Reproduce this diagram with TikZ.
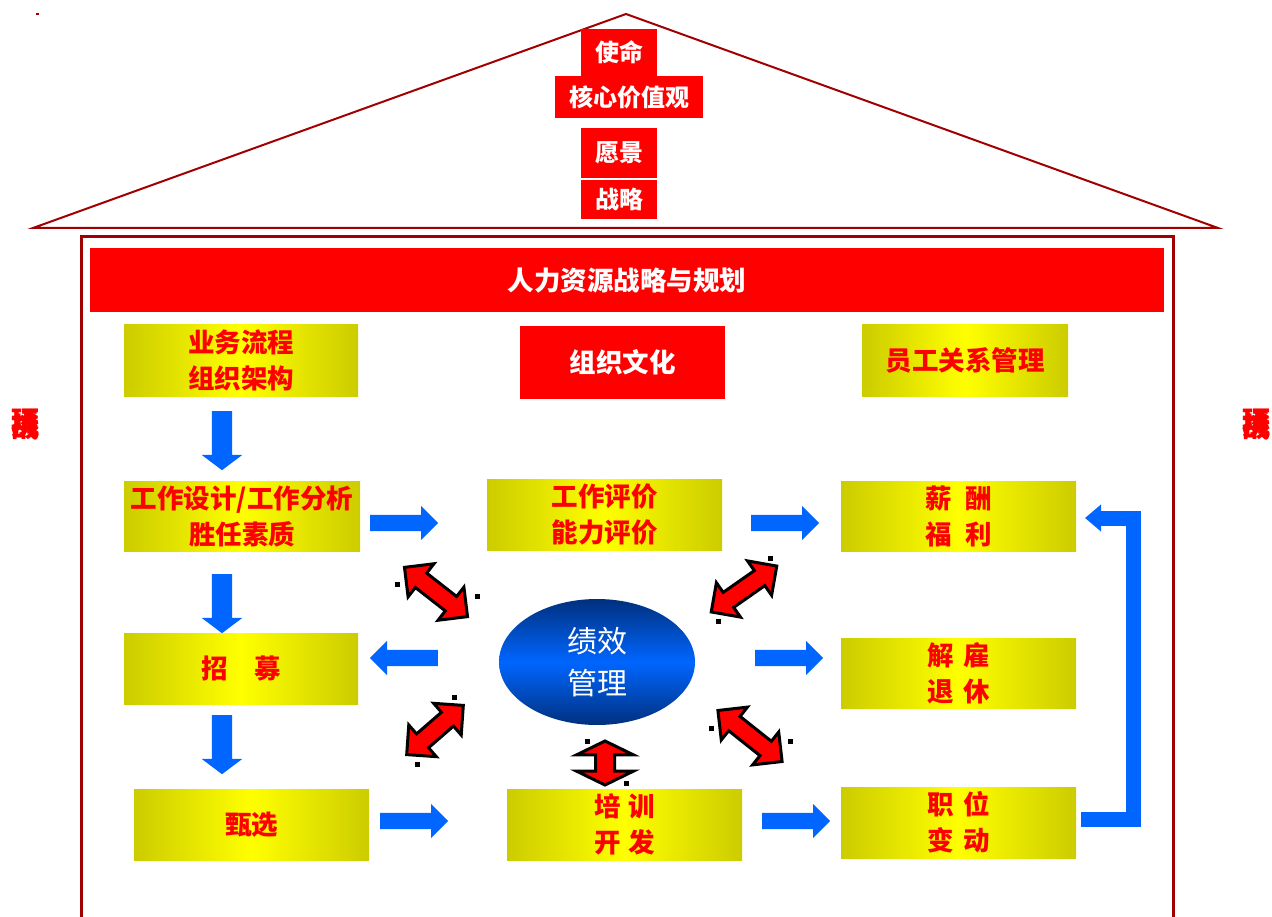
\documentclass[tikz,border=0pt]{standalone}
\usepackage{fontspec}
\setmainfont{Liberation Sans}
\newfontfamily\cjk{Noto Sans CJK SC}
\usetikzlibrary{shapes.arrows,shapes.geometric,arrows.meta}
\definecolor{roofred}{HTML}{A00000}
\definecolor{olv}{HTML}{CCCC00}
\definecolor{ylw}{HTML}{FFFF00}
\definecolor{bluearr}{HTML}{0066FF}
\definecolor{navy}{HTML}{00307E}
\definecolor{midblue}{HTML}{0066FF}
\tikzset{
  redbox/.style={fill=red, text=white, font=\cjk\bfseries\fontsize{24}{28}\selectfont, inner sep=0pt},
  ybox/.style={left color=olv, right color=olv, middle color=ylw, text=red, align=center, inner sep=0pt,
     font=\cjk\bfseries\fontsize{26.5}{36}\selectfont},
  barrow/.style={single arrow, fill=bluearr, inner xsep=0pt, inner ysep=8pt, minimum width=34pt, single arrow head extend=9pt,
     single arrow tip angle=90, minimum height=68pt, anchor=tail},
  darrow/.style={single arrow, fill=bluearr, inner xsep=0pt, inner ysep=10pt, minimum width=40pt, single arrow head extend=10pt,
     single arrow tip angle=106, minimum height=59pt, rotate=-90, anchor=tail},
  rdarrow/.style={double arrow, fill=red, draw=black, line width=3pt, inner xsep=0pt, inner ysep=7pt, minimum width=42pt,
     double arrow head extend=11pt, double arrow tip angle=90},
  handle/.style={fill=black, inner sep=0pt, minimum size=5pt},
  sidetxt/.style={text=red, align=center, inner sep=0pt, text width=30pt, font=\cjk\bfseries\fontsize{28}{28}\selectfont},
  fb/.style={draw=bluearr, line width=15pt, line join=miter, -{Triangle[width=26pt,length=16pt]}}
}
\begin{document}
\begin{tikzpicture}[x=1pt,y=-1pt]
\useasboundingbox (0,0) rectangle (1272,917);
% tiny mark
\fill[roofred] (36,13) rectangle (39,15);
% roof
\draw[roofred, line width=2pt, line join=miter] (33,228) -- (626,14) -- (1218,228) -- cycle;
% frame
\draw[roofred, line width=3pt] (81,930) -- (81,237) -- (1173,237) -- (1173,930);
% roof boxes
\node[redbox, minimum width=76pt, minimum height=47pt] (sm) at (619,52.5) {使命};
\node[redbox, minimum width=148pt, minimum height=42pt] (hx) at (629,97) {核心价值观};
\node[redbox, minimum width=76pt, minimum height=50pt] (yj) at (619,153) {愿景};
\node[redbox, minimum width=76pt, minimum height=39pt] (zl) at (619,199.5) {战略};
% banner
\node[redbox, minimum width=1074pt, minimum height=64pt, font=\cjk\bfseries\fontsize{26.5}{30}\selectfont] (ban) at (627,280) {人力资源战略与规划};
% top row
\node[ybox, minimum width=234pt, minimum height=71pt] (yw) at (241,360.5) {业务流程\\组织架构};
\node[redbox, minimum width=205pt, minimum height=73pt, font=\cjk\bfseries\fontsize{26.5}{30}\selectfont] (wh) at (622.5,362.5) {组织文化};
\node[ybox, minimum width=206pt, minimum height=71pt] (yg) at (965,360.5) {员工关系管理};
% rows
\node[ybox, minimum width=236pt, minimum height=70pt] (gz) at (242,516) {工作设计/工作分析\\胜任素质};
\node[ybox, minimum width=235pt, minimum height=71pt] (pj) at (604.5,514.5) {工作评价\\能力评价};
\node[ybox, minimum width=235pt, minimum height=70pt] (xc) at (958.5,516) {薪\hspace{0.5em}酬\\福\hspace{0.5em}利};
\node[ybox, minimum width=234pt, minimum height=71pt] (zm) at (241,668.5) {招\hspace{1em}募};
\node[ybox, minimum width=235pt, minimum height=70pt] (jg) at (958.5,673) {解\hspace{0.35em}雇\\退\hspace{0.35em}休};
\node[ybox, minimum width=235pt, minimum height=71pt] (zx) at (251.5,824.5) {甄选};
\node[ybox, minimum width=235pt, minimum height=71pt] (px) at (624.5,824.5) {培\hspace{0.3em}训\\开\hspace{0.3em}发};
\node[ybox, minimum width=235pt, minimum height=71pt] (zw) at (958.5,822.5) {职\hspace{0.35em}位\\变\hspace{0.35em}动};
% ellipse
\node[ellipse, top color=navy, bottom color=navy, middle color=midblue, minimum width=196pt, minimum height=126pt,
  inner sep=0pt, text=white, align=center, font=\cjk\fontsize{30}{42}\selectfont] (jx) at (597,662) {绩效\\管理};
% blue down arrows
\node[darrow] (d1) at (222,411) {};
\node[darrow] (d2) at (222,574) {};
\node[darrow] (d3) at (222,715) {};
% blue right/left arrows
\node[barrow] (r1) at (370,523) {};
\node[barrow] (r2) at (751,523) {};
\node[barrow] (r3) at (755,658) {};
\node[barrow] (r4) at (380,821) {};
\node[barrow] (r5) at (762,821) {};
\node[barrow, shape border rotate=180] (l1) at (438,658) {};
% feedback bracket
\coordinate (fbs) at (1081,819);
\coordinate (fbe) at (1085,518);
\draw[fb] (fbs) -- (1133,819) -- (1133,518) -- (fbe);
% red double arrows
\node[rdarrow, minimum height=80pt, rotate=-38] (a1) at (436,592) {};
\node[rdarrow, minimum height=80pt, rotate=35] (a2) at (744,589) {};
\node[rdarrow, minimum height=75pt, rotate=41] (a3) at (435,730) {};
\node[rdarrow, minimum height=82pt, rotate=-38.5] (a4) at (750,736) {};
\node[rdarrow, inner ysep=8pt, minimum height=44pt, minimum width=56pt, double arrow head extend=19pt, double arrow tip angle=128, rotate=90] (a5) at (605,763) {};
% handles
\node[handle] (h1) at (397,584) {};
\node[handle] (h2) at (477,596) {};
\node[handle] (h3) at (770,558) {};
\node[handle] (h4) at (718,621) {};
\node[handle] (h5) at (454,697) {};
\node[handle] (h6) at (417,764) {};
\node[handle] (h7) at (711,728) {};
\node[handle] (h8) at (790,741) {};
\node[handle] (h9) at (587,741) {};
\node[handle] (h10) at (626,783) {};
% side texts
\node[sidetxt] (lt) at (26,425) {环\\[-26pt]境\\[-26pt]挑\\[-26pt]战};
\node[sidetxt] (rt) at (1256,425) {环\\[-26pt]境\\[-26pt]挑\\[-26pt]战};
\end{tikzpicture}
\end{document}
